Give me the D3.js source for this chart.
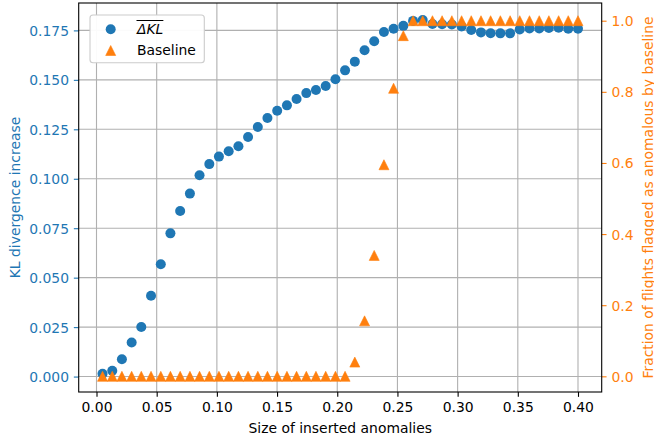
<!DOCTYPE html>
<html>
<head>
<meta charset="utf-8">
<script src="https://cdn.jsdelivr.net/npm/d3@7"></script>
<style>
  html, body { margin: 0; padding: 0; background: #fff; }
  svg { display: block; }
  text { font-family: "DejaVu Sans", sans-serif; }
</style>
</head>
<body>
<div id="chart"></div>
<script>
// Anomaly sizes (x) shared by both series
const sizes = [
  0.0050, 0.0131, 0.0211, 0.0292, 0.0372, 0.0453, 0.0534, 0.0614, 0.0695, 0.0776,
  0.0856, 0.0937, 0.1017, 0.1098, 0.1179, 0.1259, 0.1340, 0.1420, 0.1501, 0.1582,
  0.1662, 0.1743, 0.1823, 0.1904, 0.1985, 0.2065, 0.2146, 0.2227, 0.2307, 0.2388,
  0.2468, 0.2549, 0.2630, 0.2710, 0.2791, 0.2871, 0.2952, 0.3033, 0.3113, 0.3194,
  0.3274, 0.3355, 0.3436, 0.3516, 0.3597, 0.3678, 0.3758, 0.3839, 0.3919, 0.4000
];

// Mean KL divergence increase (left axis)
const klIncrease = [
  0.0014, 0.0029, 0.0088, 0.0172, 0.0251, 0.0409, 0.0568, 0.0724, 0.0837, 0.0925,
  0.1018, 0.1074, 0.1112, 0.1139, 0.1164, 0.1211, 0.1262, 0.1307, 0.1344, 0.1371,
  0.1403, 0.1433, 0.1449, 0.1469, 0.1503, 0.1548, 0.1592, 0.1650, 0.1695, 0.1742,
  0.1758, 0.1773, 0.1798, 0.1802, 0.1782, 0.1781, 0.1780, 0.1770, 0.1752, 0.1740,
  0.1736, 0.1735, 0.1735, 0.1755, 0.1760, 0.1760, 0.1762, 0.1763, 0.1758, 0.1758
];

// Fraction of flights flagged by the baseline detector (right axis)
const baselineFraction = [
  0, 0, 0, 0, 0, 0, 0, 0, 0, 0,
  0, 0, 0, 0, 0, 0, 0, 0, 0, 0,
  0, 0, 0, 0, 0, 0, 0.040, 0.156, 0.340, 0.595,
  0.810, 0.958, 1, 1, 1, 1, 1, 1, 1, 1,
  1, 1, 1, 1, 1, 1, 1, 1, 1, 1
];

const xTicks = [0.00, 0.05, 0.10, 0.15, 0.20, 0.25, 0.30, 0.35, 0.40];
const leftTicks = [0.000, 0.025, 0.050, 0.075, 0.100, 0.125, 0.150, 0.175];
const rightTicks = [0.0, 0.2, 0.4, 0.6, 0.8, 1.0];

const xDomain = [-0.01479, 0.41969];
const leftDomain = [-0.0078, 0.18885];
const rightDomain = [-0.0441, 1.0498];

const W = 654, H = 438;
const plot = { left: 78.7, right: 601.7, top: 3, bottom: 392 };
const BLUE = "#1f77b4", ORANGE = "#ff7f0e";
const FS = 13.9;
const TICK = 4.86, PAD = 4.86;

const svg = d3.select("#chart").append("svg")
  .attr("width", W).attr("height", H);

const x = d3.scaleLinear().domain(xDomain).range([plot.left, plot.right]);
const yL = d3.scaleLinear().domain(leftDomain).range([plot.bottom, plot.top]);
const yR = d3.scaleLinear().domain(rightDomain).range([plot.bottom, plot.top]);

// Grid
const grid = svg.append("g").attr("stroke", "#b0b0b0").attr("stroke-width", 1.1);
grid.selectAll(".vx").data(xTicks).join("line")
  .attr("x1", d => x(d)).attr("x2", d => x(d))
  .attr("y1", plot.top).attr("y2", plot.bottom);
grid.selectAll(".hy").data(leftTicks).join("line")
  .attr("x1", plot.left).attr("x2", plot.right)
  .attr("y1", d => yL(d)).attr("y2", d => yL(d));

// Axes
function styleAxis(g, color) {
  g.select(".domain").remove();
  g.selectAll(".tick line").attr("stroke", color).attr("stroke-width", 1.1);
  g.selectAll(".tick text").attr("fill", color)
    .style("font-family", "DejaVu Sans").style("font-size", FS + "px");
}

const gx = svg.append("g").attr("transform", `translate(0,${plot.bottom})`)
  .call(d3.axisBottom(x).tickValues(xTicks).tickFormat(d3.format(".2f"))
    .tickSizeInner(TICK).tickSizeOuter(0).tickPadding(PAD));
styleAxis(gx, "#000");
gx.selectAll(".tick text").attr("dy", "0.76em");

const gl = svg.append("g").attr("transform", `translate(${plot.left},0)`)
  .call(d3.axisLeft(yL).tickValues(leftTicks).tickFormat(d3.format(".3f"))
    .tickSizeInner(TICK).tickSizeOuter(0).tickPadding(PAD));
styleAxis(gl, BLUE);
gl.selectAll(".tick text").attr("dy", "0.36em");

const gr = svg.append("g").attr("transform", `translate(${plot.right},0)`)
  .call(d3.axisRight(yR).tickValues(rightTicks).tickFormat(d3.format(".1f"))
    .tickSizeInner(TICK).tickSizeOuter(0).tickPadding(PAD));
styleAxis(gr, ORANGE);
gr.selectAll(".tick text").attr("dy", "0.36em");

// KL divergence points
svg.append("g").selectAll("circle").data(sizes).join("circle")
  .attr("cx", d => x(d))
  .attr("cy", (d, i) => yL(klIncrease[i]))
  .attr("r", 5)
  .attr("fill", BLUE);

// Baseline triangles (upward, centred on the point)
const triPath = "M0,-5L5,5L-5,5Z";
svg.append("g").selectAll("path").data(sizes).join("path")
  .attr("d", triPath)
  .attr("transform", (d, i) => `translate(${x(d)},${yR(baselineFraction[i])})`)
  .attr("fill", ORANGE).attr("stroke", ORANGE).attr("stroke-width", 0.6);

// Frame
svg.append("rect")
  .attr("x", plot.left).attr("y", plot.top)
  .attr("width", plot.right - plot.left).attr("height", plot.bottom - plot.top)
  .attr("fill", "none").attr("stroke", "#000").attr("stroke-width", 1.1);

// Axis titles
svg.append("text")
  .attr("x", (plot.left + plot.right) / 2).attr("y", 432.5)
  .attr("text-anchor", "middle").attr("font-size", FS).attr("fill", "#000")
  .text("Size of inserted anomalies");

svg.append("text")
  .attr("transform", `translate(19.5,${(plot.top + plot.bottom) / 2}) rotate(-90)`)
  .attr("text-anchor", "middle").attr("font-size", FS).attr("fill", BLUE)
  .text("KL divergence increase");

svg.append("text")
  .attr("transform", `translate(652.5,${(plot.top + plot.bottom) / 2}) rotate(-90)`)
  .attr("text-anchor", "middle").attr("font-size", FS).attr("fill", ORANGE)
  .text("Fraction of flights flagged as anomalous by baseline");

// Legend
const lg = svg.append("g");
lg.append("rect")
  .attr("x", 90).attr("y", 15).attr("width", 114.3).attr("height", 47.7)
  .attr("rx", 3).attr("fill", "#fff").attr("fill-opacity", 0.95)
  .attr("stroke", "#cccccc").attr("stroke-width", 1.1);
lg.append("circle").attr("cx", 110.7).attr("cy", 29.3).attr("r", 5).attr("fill", BLUE);
lg.append("path").attr("d", triPath)
  .attr("transform", "translate(110.7,50.5)")
  .attr("fill", ORANGE).attr("stroke", ORANGE).attr("stroke-width", 0.6);
const klLabel = lg.append("text")
  .attr("x", 137).attr("y", 33.5)
  .attr("font-size", FS).attr("font-style", "italic").attr("fill", "#000")
  .text("ΔKL");
lg.append("text")
  .attr("x", 137).attr("y", 55)
  .attr("font-size", FS).attr("fill", "#000")
  .text("Baseline");
// Overbar above the ΔKL label
const kb = klLabel.node().getBBox();
lg.append("line")
  .attr("x1", kb.x + 0.5).attr("x2", kb.x + kb.width)
  .attr("y1", 20.5).attr("y2", 20.5)
  .attr("stroke", "#000").attr("stroke-width", 1);
</script>
</body>
</html>
